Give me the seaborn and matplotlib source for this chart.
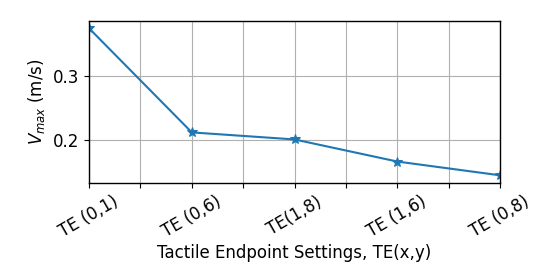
import matplotlib
matplotlib.use('Agg')
import matplotlib.pyplot as plt
import pandas as pd
import seaborn as sns

settings = ['TE (0,1)', 'TE (0,6)', 'TE(1,8)', 'TE (1,6)', 'TE (0,8)']
positions = [0, 2, 4, 6, 8]
v_max = [0.375, 0.2125, 0.2015, 0.167, 0.1455]

df = pd.DataFrame({'pos': positions, 'vmax': v_max})

sns.set_style('ticks')
plt.rcParams['font.family'] = ['DejaVu Sans']
plt.rcParams['text.color'] = 'black'
plt.rcParams['axes.labelcolor'] = 'black'
plt.rcParams['xtick.color'] = 'black'
plt.rcParams['ytick.color'] = 'black'

fig, ax = plt.subplots(figsize=(5.5, 2.76), dpi=100)
sns.lineplot(data=df, x='pos', y='vmax', marker='*', markersize=7,
             markeredgecolor='#1f77b4', color='#1f77b4', linewidth=1.5, ax=ax)

tick_labels = []
for i in range(9):
    tick_labels.append(settings[i // 2] if i % 2 == 0 else '')
ax.set_xticks(range(9))
ax.set_xticklabels(tick_labels, rotation=30, fontsize=12)
ax.set_xlim(0, 8)
ax.set_ylim(0.1335, 0.3865)
ax.set_yticks([0.2, 0.3])
ax.tick_params(axis='y', labelsize=12)
ax.grid(True, color='#b0b0b0', linewidth=0.8)
for s in ax.spines.values():
    s.set_color('black')
    s.set_linewidth(1.0)
ax.tick_params(direction='out', length=3.5, width=0.8, colors='black')

ax.set_xlabel('Tactile Endpoint Settings, TE(x,y)', fontsize=12, labelpad=2)
ax.set_ylabel('$V_{max}$ (m/s)', fontsize=12)

fig.subplots_adjust(left=0.162, right=0.909, top=0.924, bottom=0.337)
fig.savefig('out.png', dpi=100)
plt.close(fig)
